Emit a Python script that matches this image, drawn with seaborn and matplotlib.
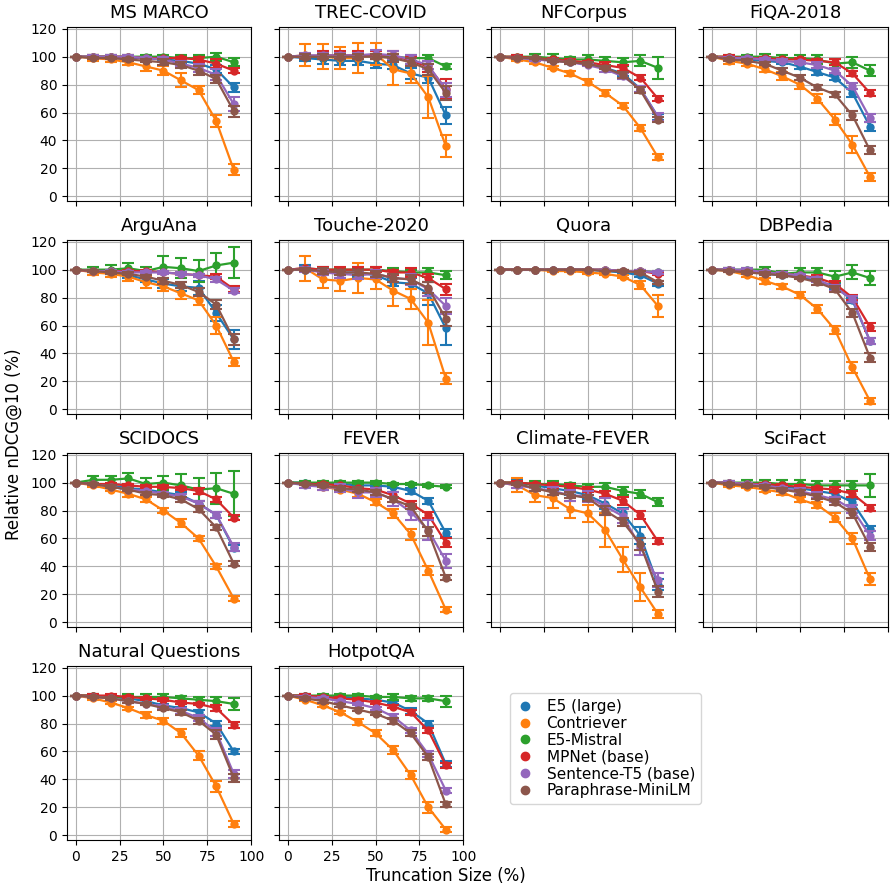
import numpy as np
import pandas as pd
import matplotlib
matplotlib.use("Agg")
import matplotlib.pyplot as plt
from matplotlib.lines import Line2D
import seaborn as sns

# truncation sizes and models
sizes = [0, 10, 20, 30, 40, 50, 60, 70, 80, 90]
models = ["E5 (large)", "Contriever", "E5-Mistral", "MPNet (base)",
          "Sentence-T5 (base)", "Paraphrase-MiniLM"]
colors = sns.color_palette("tab10", 6)

# relative nDCG@10 per dataset (rows follow `models`), and error sizes
ms_marco_mean = [[100, 100, 100, 99, 99, 98, 97, 95, 91, 78],
                 [100, 99, 98, 96, 93, 90, 83, 76, 54, 19],
                 [100, 100, 100, 100, 100, 100, 99, 99, 100, 96],
                 [100, 100, 100, 100, 99, 99, 99, 98, 95, 90],
                 [100, 100, 100, 100, 99, 98, 95, 92, 87, 66],
                 [100, 99, 99, 98, 97, 96, 94, 90, 84, 61]]
ms_marco_err = [[0, 1, 1, 1, 1, 1, 2, 2, 3, 3],
                [0, 2, 2, 2, 3, 3, 5, 3, 4, 4],
                [0, 1, 1, 1, 1, 1, 2, 2, 3, 3],
                [0, 1, 1, 1, 1, 1, 1, 2, 3, 2],
                [0, 1, 1, 1, 1, 2, 2, 3, 4, 5],
                [0, 1, 1, 1, 1, 2, 2, 3, 3, 4]]

trec_covid_mean = [[100, 99, 98, 97, 97, 95, 94, 88, 85, 58],
                   [100, 101, 100, 99, 99, 102, 91, 88, 71, 36],
                   [100, 100, 100, 100, 101, 100, 100, 99, 99, 93],
                   [100, 100, 101, 101, 101, 101, 101, 97, 93, 77],
                   [100, 101, 101, 101, 101, 102, 101, 98, 94, 76],
                   [100, 100, 100, 100, 100, 100, 99, 96, 91, 74]]
trec_covid_err = [[0, 2, 3, 3, 3, 3, 3, 4, 4, 6],
                  [0, 8, 9, 8, 11, 8, 11, 7, 15, 8],
                  [0, 2, 2, 2, 2, 2, 2, 2, 2, 2],
                  [0, 2, 3, 3, 3, 3, 3, 3, 4, 7],
                  [0, 2, 2, 2, 2, 3, 3, 3, 3, 5],
                  [0, 2, 2, 2, 2, 2, 3, 3, 4, 5]]

nfcorpus_mean = [[100, 99, 99, 98, 96, 95, 92, 88, 77, 57],
                 [100, 98, 96, 92, 88, 82, 74, 65, 49, 28],
                 [100, 100, 100, 99, 98, 98, 97, 96, 97, 92],
                 [100, 100, 99, 98, 97, 96, 94, 92, 85, 70],
                 [100, 99, 98, 97, 96, 94, 91, 86, 77, 57],
                 [100, 99, 99, 97, 96, 95, 92, 87, 76, 55]]
nfcorpus_err = [[0, 1, 1, 1, 1, 1, 1, 2, 2, 2],
                [0, 1, 1, 1, 2, 2, 2, 2, 2, 2],
                [0, 1, 2, 3, 2, 3, 3, 3, 4, 8],
                [0, 1, 1, 1, 1, 1, 2, 2, 2, 2],
                [0, 1, 1, 1, 1, 1, 2, 2, 2, 3],
                [0, 1, 1, 1, 1, 1, 1, 2, 2, 2]]

fiqa_mean = [[100, 99, 98, 97, 96, 93, 89, 85, 74, 50],
             [100, 97, 95, 91, 86, 80, 70, 55, 37, 14],
             [100, 100, 100, 100, 99, 99, 98, 95, 96, 90],
             [100, 100, 99, 99, 98, 98, 97, 96, 88, 74],
             [100, 99, 99, 98, 97, 96, 94, 90, 79, 56],
             [100, 98, 97, 95, 90, 85, 78, 73, 58, 33]]
fiqa_err = [[0, 1, 1, 1, 1, 2, 2, 2, 3, 3],
            [0, 2, 2, 2, 3, 3, 3, 4, 6, 3],
            [0, 1, 1, 2, 2, 2, 3, 3, 4, 4],
            [0, 1, 1, 1, 1, 1, 1, 2, 2, 2],
            [0, 1, 1, 1, 1, 1, 2, 2, 2, 3],
            [0, 1, 1, 1, 2, 2, 2, 2, 3, 3]]

arguana_mean = [[100, 99, 98, 96, 93, 90, 88, 87, 69, 50],
                [100, 98, 97, 95, 91, 88, 83, 78, 60, 34],
                [100, 100, 100, 101, 99, 102, 101, 99, 103, 105],
                [100, 99, 99, 99, 99, 98, 97, 96, 95, 86],
                [100, 99, 99, 98, 98, 98, 97, 96, 93, 85],
                [100, 99, 98, 97, 95, 92, 89, 84, 75, 50]]
arguana_err = [[0, 1, 1, 2, 2, 3, 3, 5, 6, 7],
               [0, 2, 2, 3, 4, 3, 4, 3, 6, 3],
               [0, 2, 3, 4, 3, 8, 7, 8, 9, 11],
               [0, 1, 1, 1, 1, 1, 1, 1, 2, 2],
               [0, 1, 1, 1, 1, 1, 1, 1, 2, 2],
               [0, 1, 1, 1, 1, 2, 2, 3, 3, 4]]

touche_mean = [[100, 101, 100, 98, 98, 96, 91, 90, 83, 58],
               [100, 101, 93, 92, 94, 93, 85, 79, 62, 22],
               [100, 100, 100, 100, 100, 100, 99, 98, 98, 96],
               [100, 101, 100, 100, 100, 100, 98, 98, 94, 86],
               [100, 100, 98, 97, 96, 97, 94, 93, 86, 74],
               [100, 100, 99, 98, 98, 97, 94, 93, 87, 65]]
touche_err = [[0, 2, 2, 2, 3, 3, 3, 4, 8, 12],
              [0, 9, 6, 7, 11, 7, 11, 7, 16, 4],
              [0, 1, 1, 1, 2, 2, 2, 2, 3, 3],
              [0, 1, 2, 2, 2, 2, 2, 3, 3, 4],
              [0, 2, 2, 3, 3, 3, 3, 4, 5, 6],
              [0, 1, 2, 2, 2, 2, 3, 3, 4, 5]]

quora_mean = [[100, 100, 100, 100, 100, 100, 99, 98, 96, 90],
              [100, 100, 100, 99, 99, 98, 97, 95, 89, 74],
              [100, 100, 100, 100, 100, 100, 100, 99, 99, 98],
              [100, 100, 100, 100, 100, 100, 100, 99, 99, 97],
              [100, 100, 100, 100, 100, 100, 100, 99, 99, 98],
              [100, 100, 100, 100, 100, 100, 99, 99, 98, 91]]
quora_err = [[0, 0, 0, 0, 0, 0, 1, 1, 1, 2],
             [0, 0, 0, 1, 1, 1, 1, 1, 3, 8],
             [0, 0, 0, 0, 0, 0, 0, 1, 1, 1],
             [0, 0, 0, 0, 0, 0, 0, 1, 1, 1],
             [0, 0, 0, 0, 0, 0, 0, 1, 1, 1],
             [0, 0, 0, 0, 0, 0, 0, 1, 1, 1]]

dbpedia_mean = [[100, 100, 99, 97, 96, 95, 92, 88, 78, 49],
                [100, 99, 96, 92, 88, 82, 72, 57, 30, 6],
                [100, 100, 100, 100, 97, 98, 98, 95, 98, 94],
                [100, 100, 99, 98, 97, 96, 94, 90, 80, 59],
                [100, 100, 100, 98, 97, 96, 93, 87, 79, 49],
                [100, 99, 98, 97, 96, 94, 91, 86, 69, 37]]
dbpedia_err = [[0, 1, 1, 1, 1, 1, 1, 2, 2, 2],
               [0, 1, 1, 2, 2, 2, 3, 3, 4, 2],
               [0, 1, 1, 2, 2, 3, 3, 4, 5, 5],
               [0, 1, 1, 1, 1, 1, 2, 2, 2, 3],
               [0, 1, 1, 1, 1, 1, 2, 2, 2, 2],
               [0, 1, 1, 1, 1, 1, 2, 2, 3, 3]]

scidocs_mean = [[100, 99, 98, 96, 95, 93, 91, 85, 77, 53],
                [100, 98, 95, 92, 88, 80, 71, 60, 40, 17],
                [100, 102, 102, 103, 99, 100, 98, 95, 96, 92],
                [100, 99, 99, 98, 97, 97, 96, 94, 88, 75],
                [100, 99, 97, 95, 94, 92, 90, 85, 77, 54],
                [100, 99, 97, 95, 92, 91, 88, 81, 68, 42]]
scidocs_err = [[0, 1, 1, 1, 1, 1, 2, 2, 2, 2],
               [0, 1, 1, 2, 2, 2, 3, 2, 2, 2],
               [0, 3, 3, 4, 4, 5, 8, 8, 11, 16],
               [0, 1, 1, 1, 1, 1, 1, 2, 2, 2],
               [0, 1, 1, 1, 1, 1, 2, 2, 2, 3],
               [0, 1, 1, 1, 1, 1, 2, 2, 2, 2]]

fever_mean = [[100, 100, 99, 99, 98, 98, 97, 94, 87, 64],
              [100, 99, 97, 95, 92, 86, 78, 63, 37, 9],
              [100, 100, 100, 100, 100, 100, 99, 99, 98, 97],
              [100, 99, 99, 98, 96, 95, 91, 85, 77, 57],
              [100, 98, 97, 96, 93, 93, 88, 79, 66, 44],
              [100, 99, 98, 96, 95, 93, 88, 83, 65, 32]]
fever_err = [[0, 1, 1, 1, 1, 1, 1, 2, 2, 3],
             [0, 1, 2, 2, 2, 2, 3, 4, 3, 2],
             [0, 1, 1, 1, 1, 1, 1, 1, 1, 1],
             [0, 1, 1, 1, 1, 1, 2, 2, 2, 3],
             [0, 2, 2, 3, 4, 3, 5, 6, 7, 5],
             [0, 1, 1, 1, 2, 2, 2, 2, 3, 2]]

climate_fever_mean = [[100, 100, 98, 96, 94, 91, 85, 78, 62, 27],
                      [100, 98, 91, 89, 81, 78, 66, 45, 25, 6],
                      [100, 100, 99, 99, 98, 97, 97, 94, 92, 86],
                      [100, 100, 99, 98, 97, 95, 92, 87, 77, 58],
                      [100, 98, 96, 94, 91, 90, 83, 76, 54, 30],
                      [100, 99, 96, 93, 91, 89, 80, 72, 56, 22]]
climate_fever_err = [[0, 2, 2, 2, 3, 3, 4, 4, 6, 4],
                     [0, 5, 5, 7, 6, 6, 12, 9, 10, 3],
                     [0, 1, 2, 2, 2, 2, 3, 3, 3, 3],
                     [0, 1, 1, 2, 2, 2, 2, 3, 3, 2],
                     [0, 2, 2, 3, 4, 4, 6, 5, 6, 5],
                     [0, 1, 2, 2, 2, 2, 3, 3, 4, 4]]

scifact_mean = [[100, 100, 99, 98, 97, 96, 94, 92, 86, 67],
                [100, 98, 97, 95, 93, 88, 84, 75, 60, 31],
                [100, 100, 100, 100, 99, 99, 98, 98, 98, 98],
                [100, 100, 99, 99, 98, 97, 96, 95, 92, 82],
                [100, 100, 99, 98, 96, 94, 91, 88, 81, 62],
                [100, 99, 98, 97, 95, 93, 90, 86, 78, 54]]
scifact_err = [[0, 1, 1, 1, 1, 1, 2, 2, 2, 2],
               [0, 1, 1, 2, 2, 2, 2, 3, 4, 4],
               [0, 1, 2, 2, 3, 3, 3, 3, 3, 8],
               [0, 1, 1, 1, 1, 1, 1, 2, 2, 2],
               [0, 1, 1, 1, 1, 2, 2, 2, 3, 3],
               [0, 1, 1, 1, 1, 2, 2, 2, 3, 3]]

nq_mean = [[100, 100, 99, 98, 96, 93, 91, 88, 80, 60],
           [100, 98, 95, 91, 86, 82, 73, 57, 35, 8],
           [100, 100, 99, 99, 99, 99, 98, 97, 96, 94],
           [100, 100, 100, 99, 98, 97, 95, 94, 91, 79],
           [100, 99, 98, 96, 94, 92, 89, 84, 74, 44],
           [100, 99, 98, 96, 94, 91, 88, 82, 72, 41]]
nq_err = [[0, 1, 1, 1, 1, 1, 1, 2, 2, 2],
          [0, 1, 1, 1, 2, 2, 3, 3, 4, 2],
          [0, 1, 1, 2, 2, 2, 2, 2, 3, 4],
          [0, 1, 1, 1, 1, 1, 1, 1, 2, 2],
          [0, 1, 1, 1, 1, 1, 2, 2, 3, 3],
          [0, 1, 1, 1, 1, 1, 2, 2, 3, 3]]

hotpotqa_mean = [[100, 100, 99, 99, 98, 97, 95, 89, 80, 51],
                 [100, 97, 93, 88, 81, 73, 61, 43, 20, 4],
                 [100, 100, 100, 100, 100, 99, 99, 98, 98, 96],
                 [100, 100, 99, 98, 97, 95, 92, 88, 75, 50],
                 [100, 99, 98, 96, 94, 91, 85, 75, 58, 32],
                 [100, 98, 96, 93, 90, 87, 82, 73, 56, 22]]
hotpotqa_err = [[0, 1, 1, 1, 1, 1, 1, 2, 2, 2],
                [0, 1, 1, 1, 2, 2, 3, 3, 4, 2],
                [0, 1, 1, 1, 1, 1, 2, 2, 2, 4],
                [0, 1, 1, 1, 1, 1, 1, 2, 2, 2],
                [0, 1, 1, 1, 1, 1, 2, 2, 2, 2],
                [0, 1, 1, 1, 1, 1, 2, 2, 2, 2]]

datasets = [
    ("MS MARCO", ms_marco_mean, ms_marco_err),
    ("TREC-COVID", trec_covid_mean, trec_covid_err),
    ("NFCorpus", nfcorpus_mean, nfcorpus_err),
    ("FiQA-2018", fiqa_mean, fiqa_err),
    ("ArguAna", arguana_mean, arguana_err),
    ("Touche-2020", touche_mean, touche_err),
    ("Quora", quora_mean, quora_err),
    ("DBPedia", dbpedia_mean, dbpedia_err),
    ("SCIDOCS", scidocs_mean, scidocs_err),
    ("FEVER", fever_mean, fever_err),
    ("Climate-FEVER", climate_fever_mean, climate_fever_err),
    ("SciFact", scifact_mean, scifact_err),
    ("Natural Questions", nq_mean, nq_err),
    ("HotpotQA", hotpotqa_mean, hotpotqa_err),
]

sns.set_style("ticks", {"axes.edgecolor": "black", "xtick.color": "black",
                        "ytick.color": "black", "text.color": "black",
                        "axes.labelcolor": "black"})
plt.rcParams["font.family"] = ["DejaVu Sans"]

fig, axs = plt.subplots(4, 4, figsize=(8.92, 8.89), dpi=100, sharex=True, sharey=True)
fig.subplots_adjust(left=0.075, right=0.995, top=0.97, bottom=0.055,
                    wspace=0.15, hspace=0.22)

for i, (name, means, errs) in enumerate(datasets):
    ax = axs.flat[i]
    for j, model in enumerate(models):
        df = pd.DataFrame({"size": sizes, "score": means[j]})
        sns.lineplot(data=df, x="size", y="score", color=colors[j], marker="o",
                     markersize=6, markeredgewidth=0, linewidth=1.6, ax=ax)
        ax.errorbar(sizes, means[j], yerr=errs[j], fmt="none", ecolor=colors[j],
                    elinewidth=1.5, capsize=4, capthick=1.5)
    ax.set_title(name, fontsize=13)
    ax.set_xlabel("")
    ax.set_ylabel("")
    ax.grid(True, color="#b0b0b0", linewidth=0.8)
    ax.set_xlim(-5, 100)
    ax.set_ylim(-3.5, 121.5)
    ax.set_xticks([0, 25, 50, 75, 100])
    ax.set_yticks([0, 20, 40, 60, 80, 100, 120])
    ax.tick_params(labelsize=10)

for ax in axs.flat[len(datasets):]:
    ax.set_axis_off()

handles = [Line2D([], [], marker="o", linestyle="", color=colors[j], markersize=6)
           for j in range(len(models))]
fig.legend(handles, models, loc="upper left", bbox_to_anchor=(0.563, 0.229),
           fontsize=11, frameon=True, labelspacing=0.12, handlelength=1.2,
           handletextpad=0.8)

fig.supxlabel("Truncation Size (%)", fontsize=12, y=0.005)
fig.supylabel("Relative nDCG@10 (%)", fontsize=12, x=0.005)

fig.savefig("out.png", dpi=100)
